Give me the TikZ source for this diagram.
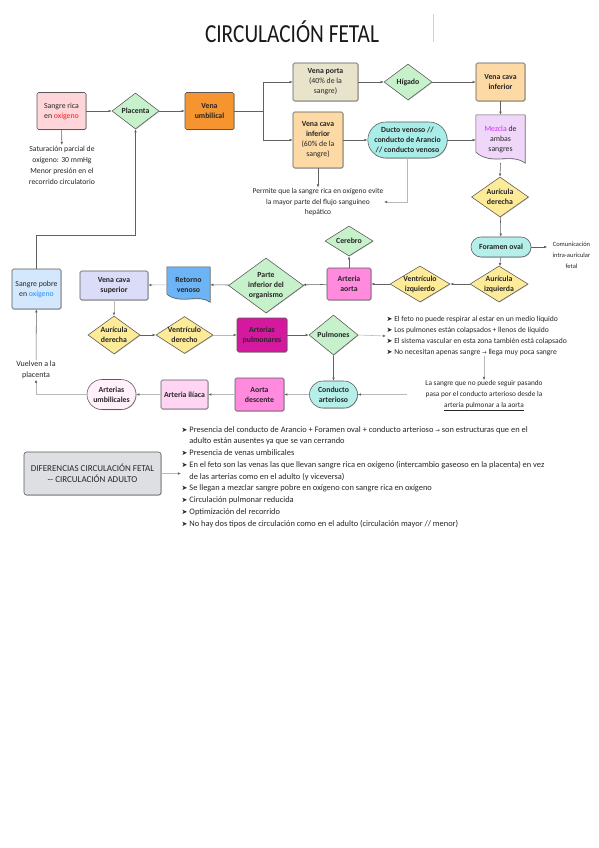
\documentclass[tikz,border=0pt]{standalone}
\usepackage{fontspec}
\setmainfont{Carlito}
\newfontfamily\djv{DejaVu Sans}
\usetikzlibrary{shapes.geometric,shapes.misc,arrows.meta,calc,shadows,backgrounds}
\definecolor{csr}{HTML}{FFD5DA}
\definecolor{cgreen}{HTML}{C6F1CB}
\definecolor{corange}{HTML}{F6952F}
\definecolor{cbeige}{HTML}{E8E3CB}
\definecolor{clorange}{HTML}{FCD9A5}
\definecolor{ccyan}{HTML}{A9EDE8}
\definecolor{ccyanb}{HTML}{B4EFEA}
\definecolor{clav}{HTML}{F0D6F9}
\definecolor{cyel}{HTML}{FDEB98}
\definecolor{cpink}{HTML}{FF8ADE}
\definecolor{cblue}{HTML}{6CB4F6}
\definecolor{cvcs}{HTML}{DBDCF8}
\definecolor{csp}{HTML}{D3E7FD}
\definecolor{cmag}{HTML}{D4199E}
\definecolor{cilia}{HTML}{FFD5F3}
\definecolor{cumb}{HTML}{FFF0FA}
\definecolor{cgrayb}{HTML}{DDDFE2}
\definecolor{cred}{HTML}{FF1A1A}
\definecolor{cbluet}{HTML}{1E90FF}
\definecolor{cmezt}{HTML}{C433F2}
\newcommand\nfs{\fontsize{7.8}{10}\selectfont}
\newcommand\sfs{\fontsize{7.5}{10.5}\selectfont}
\newcommand\bul{{\djv\fontsize{7}{6}\selectfont ➤}\ }
\newcommand\indt{\phantom{\bul}}
\newcommand\arr{{\djv\fontsize{5.5}{6}\selectfont →}}
\begin{document}
\begin{tikzpicture}[x=1pt,y=-1pt,
  base/.style={draw=black!65, line width=0.55pt, text=black!85, font=\nfs, align=center, inner sep=1pt,
    drop shadow={shadow xshift=0.6pt,shadow yshift=-0.6pt,fill=black,opacity=0.25}},
  box/.style={base, rectangle, rounded corners=1.5pt},
  stad/.style={base, rounded rectangle},
  dia/.style={base, diamond, inner sep=0pt},
  dlab/.style={font=\nfs\bfseries, align=center, text=black!85, inner sep=0pt},
  docn/.style={rectangle, font=\nfs\bfseries, align=center, text=black!85, inner sep=1pt},
  docpath/.style={draw=black!65, line width=0.55pt,
    drop shadow={shadow xshift=0.6pt,shadow yshift=-0.6pt,fill=black,opacity=0.25}},
  small/.style={font=\sfs, align=center, text=black!85, inner sep=0.5pt},
  con/.style={draw=black!62, line width=0.55pt, -{Latex[length=3.2pt,width=2.6pt]}},
  conl/.style={draw=black!28, line width=0.55pt, -{Latex[length=3.2pt,width=2.6pt,color=black!60]}},
]
\useasboundingbox (0,0) rectangle (599,848);

% title
\node[font=\fontsize{26}{26}\selectfont, text=black!90, inner sep=0pt] (title) at (292,32) {\scalebox{0.82}[1]{CIRCULACIÓN FETAL}};
\draw[black!18, line width=0.6pt] (433,14) -- (433,42);

% row 1
\node[box, fill=csr, minimum width=49pt, minimum height=37pt] (sr) at (61.5,111) {Sangre rica\\en \textcolor{cred}{oxígeno}};
\node[small, anchor=north, font=\fontsize{7.7}{11}\selectfont] (sat) at (62,145) {Saturación parcial de\\oxígeno: 30 mmHg\\Menor presión en el\\recorrido circulatorio};
\node[dia, fill=cgreen, minimum width=47pt, minimum height=36pt, label={[dlab]center:Placenta}] (pla) at (135.5,111) {};
\node[box, fill=corange, minimum width=49pt, minimum height=37pt, font=\nfs\bfseries] (vu) at (209.5,111) {Vena\\umbilical};
\node[box, fill=cbeige, minimum width=65pt, minimum height=38pt] (vp) at (325.5,82) {\textbf{Vena porta}\\(40\% de la\\sangre)};
\node[dia, fill=cgreen, minimum width=48pt, minimum height=36pt, label={[dlab]center:Hígado}] (hig) at (408,82) {};
\node[box, fill=clorange, minimum width=49pt, minimum height=38pt, font=\nfs\bfseries] (vci1) at (500.5,82) {Vena cava\\inferior};
\node[box, fill=clorange, minimum width=50pt, minimum height=56pt] (vci2) at (318,140) {\textbf{Vena cava}\\\textbf{inferior}\\(60\% de la\\sangre)};
\node[stad, fill=ccyan, minimum width=73pt, minimum height=36pt, font=\nfs\bfseries] (dv) at (407.5,140) {Ducto venoso //\\conducto de Arancio\\// conducto venoso};
\node[docn, font=\nfs, minimum width=49pt, minimum height=48pt] (mez) at (500.5,139) {\textcolor{cmezt}{Mezcla} de\\ambas\\sangres};
\node[small] (perm) at (318,202) {Permite que la sangre rica en oxígeno evite\\la mayor parte del flujo sanguíneo\\hepático};
\node[dia, fill=cyel, minimum width=57pt, minimum height=40pt, label={[dlab]center:{Aurícula\\derecha}}] (ad1) at (500,197) {};
\node[stad, fill=ccyanb, minimum width=62pt, minimum height=20pt, font=\nfs\bfseries] (fo) at (501,247) {Foramen oval};
\node[small, font=\fontsize{6.5}{11}\selectfont] (com) at (571.5,255) {Comunicación\\intra-auricular\\fetal};

% row 2
\node[dia, fill=cyel, minimum width=58pt, minimum height=36pt, label={[dlab]center:{Aurícula\\izquierda}}] (ai) at (499,284) {};
\node[dia, fill=cyel, minimum width=60pt, minimum height=36pt, label={[dlab]center:{Ventrículo\\izquierdo}}] (vi) at (420,284) {};
\node[box, fill=cpink, minimum width=44pt, minimum height=32pt, font=\nfs\bfseries] (aa) at (349,284) {Arteria\\aorta};
\node[dia, fill=cgreen, minimum width=48pt, minimum height=30pt, label={[dlab]center:Cerebro}] (cer) at (349,241) {};
\node[dia, fill=cgreen, minimum width=75pt, minimum height=55pt, label={[dlab]center:{Parte\\inferior del\\organismo}}] (pio) at (266,285.5) {};
\node[docn, minimum width=43pt, minimum height=35pt] (rv) at (188.5,284.5) {Retorno\\venoso};
\node[box, fill=cvcs, minimum width=68pt, minimum height=29pt, font=\nfs\bfseries] (vcs) at (114,285.5) {Vena cava\\superior};
\node[box, fill=csp, minimum width=49pt, minimum height=40pt] (sp) at (36.5,289) {Sangre pobre\\en \textcolor{cbluet}{oxígeno}};

% row 3
\node[dia, fill=cyel, minimum width=52pt, minimum height=38pt, label={[dlab]center:{Aurícula\\derecha}}] (ad2) at (114,335) {};
\node[dia, fill=cyel, minimum width=57pt, minimum height=37pt, label={[dlab]center:{Ventrículo\\derecho}}] (vd) at (184.5,335) {};
\node[box, fill=cmag, minimum width=50pt, minimum height=34pt, font=\nfs\bfseries] (ap) at (262,335) {Arterias\\pulmonares};
\node[dia, fill=cgreen, minimum width=49pt, minimum height=40pt, label={[dlab]center:Pulmones}] (pul) at (333.5,335) {};
\node[small, align=left, anchor=west, font=\fontsize{7.6}{11}\selectfont] (pl) at (386,336) {\bul El feto no puede respirar al estar en un medio líquido\\\bul Los pulmones están colapsados + llenos de líquido\\\bul El sistema vascular en esta zona también está colapsado\\\bul No necesitan apenas sangre \arr\ llega muy poca sangre};
\node[small, font=\fontsize{7.3}{11}\selectfont] (cs) at (484,396) {La sangre que no puede seguir pasando\\pasa por el conducto arterioso desde la\\\underline{arteria pulmonar a la aorta}};

% row 4
\node[stad, fill=ccyanb, minimum width=50pt, minimum height=27pt, font=\nfs\bfseries] (ca) at (333.5,394.5) {Conducto\\arterioso};
\node[box, fill=cpink, minimum width=49pt, minimum height=33pt, font=\nfs\bfseries] (adesc) at (259.5,394.5) {Aorta\\descente};
\node[box, fill=cilia, minimum width=47pt, minimum height=29pt, font=\nfs\bfseries] (ailia) at (184.5,394.5) {Arteria ilíaca};
\node[stad, fill=cumb, minimum width=51pt, minimum height=30pt, font=\nfs\bfseries] (aumb) at (111.5,394.5) {Arterias\\umbilicales};
\node[small, font=\fontsize{8}{11}\selectfont] (vuel) at (36,370) {Vuelven a la\\placenta};

% differences
\node[box, fill=cgrayb, minimum width=137pt, minimum height=43pt, rounded corners=2.5pt, font=\fontsize{9}{11}\selectfont] (dif) at (92.5,473.5) {DIFERENCIAS CIRCULACIÓN FETAL\\{-}{-} CIRCULACIÓN ADULTO};
\node[small, align=left, anchor=west, font=\fontsize{8.4}{11.75}\selectfont] (b2) at (181,477) {\bul Presencia del conducto de Arancio + Foramen oval + conducto arterioso \arr\ son estructuras que en el\\\indt adulto están ausentes ya que se van cerrando\\\bul Presencia de venas umbilicales\\\bul En el feto son las venas las que llevan sangre rica en oxígeno (intercambio gaseoso en la placenta) en vez\\\indt de las arterias como en el adulto (y viceversa)\\\bul Se llegan a mezclar sangre pobre en oxígeno con sangre rica en oxígeno\\\bul Circulación pulmonar reducida\\\bul Optimización del recorrido\\\bul No hay dos tipos de circulación como en el adulto (circulación mayor // menor)};

% background and document shapes
\begin{scope}[on background layer]
\fill[white] (0,0) rectangle (599,848);
\path[docpath, fill=clav] (mez.north west) -- (mez.north east) -- (mez.south east)
  .. controls ($(mez.south east)+(-14,-11)$) and ($(mez.south west)+(16,3)$) .. ($(mez.south west)+(0,-11)$) -- cycle;
\path[docpath, fill=cblue] (rv.north west) -- (rv.north east) -- (rv.south east)
  .. controls ($(rv.south east)+(-12,-9)$) and ($(rv.south west)+(14,3)$) .. ($(rv.south west)+(0,-8)$) -- cycle;
\end{scope}

% connectors
\draw[con] (sr) -- (pla);
\draw[con] (pla) -- (vu);
\draw[con] (vu.east) -- ++(29,0) |- (vp.west);
\draw[con] (vu.east) -- ++(29,0) |- (vci2.west);
\draw[con] (vp) -- (hig);
\draw[con] (hig) -- (vci1);
\draw[con] (vci2) -- (dv);
\draw[con] (dv.east) -- (dv.east -| mez.west);
\draw[con] (vci1) -- (mez);
\draw[con] (mez.south) -- (ad1.north);
\draw[con] (ad1) -- (fo);
\draw[con] (fo) -- (ai);
\draw[con] (fo.east) -- ++(16,0) coordinate (foe);
\draw[con] (ai) -- (vi);
\draw[con] (vi) -- (aa);
\draw[con] (aa) -- (cer);
\draw[con] (aa) -- (pio);
\draw[con] (pio) -- (rv);
\draw[conl] (rv) -- (vcs);
\draw[conl] (vcs) -- (ad2);
\draw[con] (ad2) -- (vd);
\draw[conl] (vd) -- (ap);
\draw[con] (ap) -- (pul);
\draw[conl] (pul.east) -- (pl.west);
\draw[con] (pul) -- (ca);
\draw[conl] (cs.north |- pl.south) -- (cs.north);
\coordinate (csl) at (407,394.5);
\draw[conl] (csl) -- (ca.east);
\draw[conl] (ca) -- (adesc);
\draw[conl] (adesc) -- (ailia);
\draw[conl] (ailia) -- (aumb);
\draw[conl] (aumb.west) -| (vuel.south);
\draw[con] (vuel) -- (sp);
\draw[con] (sp.north) -- ++(0,-33) -| (pla.south);
\draw[con] (sr) -- (sat);
\draw[con] (vci2) -- (perm);
\draw[conl] (dv.south) |- (perm.east);
\draw[conl] (dif.east) -- (dif.east -| b2.west);
\end{tikzpicture}
\end{document}
